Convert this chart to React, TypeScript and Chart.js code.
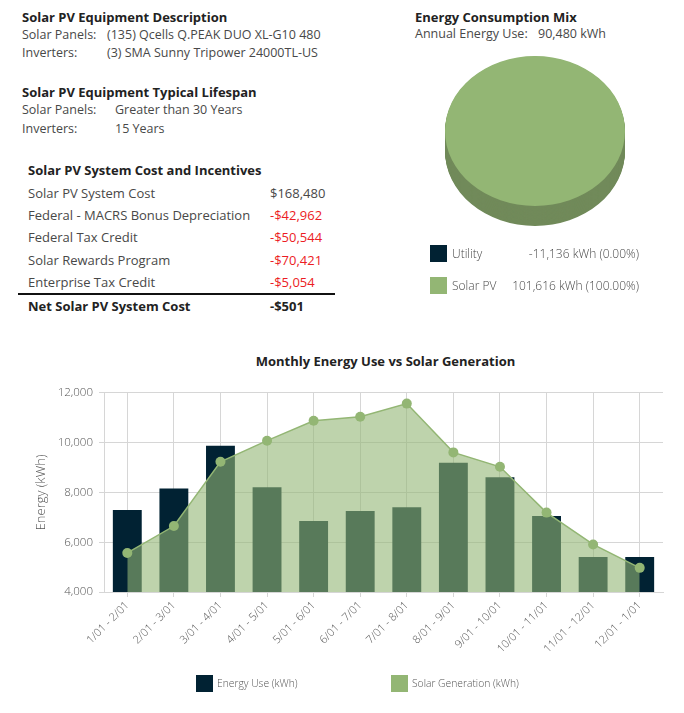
import React, { useEffect, useRef } from "react";
import { Chart, registerables } from "chart.js";

Chart.register(...registerables);

// ---------- data ----------
const months = [
  "1/01 - 2/01", "2/01 - 3/01", "3/01 - 4/01", "4/01 - 5/01", "5/01 - 6/01", "6/01 - 7/01",
  "7/01 - 8/01", "8/01 - 9/01", "9/01 - 10/01", "10/01 - 11/01", "11/01 - 12/01", "12/01 - 1/01",
];
const energyUse = [7290, 8160, 9880, 8210, 6850, 7250, 7410, 9190, 8610, 7050, 5410, 5410];
const solarGen = [5570, 6650, 9230, 10080, 10880, 11040, 11570, 9610, 9030, 7190, 5910, 4970];
const yMin = 4000;
const yMax = 12000;
const yStep = 2000;

const mixLabels = ["Utility", "Solar PV"];
const mixKwh = [-11136, 101616];
const mixPct = ["0.00%", "100.00%"];
const mixColors = ["#012233", "#93B674"];
const mixSideColors = ["#0a1a24", "#718A5A"];

const costLabels = [
  "Solar PV System Cost",
  "Federal - MACRS Bonus Depreciation",
  "Federal Tax Credit",
  "Solar Rewards Program",
  "Enterprise Tax Credit",
];
const costValues = ["$168,480", "-$42,962", "-$50,544", "-$70,421", "-$5,054"];

const FONT = "'Open Sans', 'Noto Sans', sans-serif";
const TEXT = "#484848";
const BOLD = "#222";
const RED = "#ec1c24";

type TP = { x: number; y: number; children: React.ReactNode; bold?: boolean; light?: boolean; color?: string; size?: number; right?: boolean };
function T({ x, y, children, bold, light, color, size, right }: TP) {
  const style: React.CSSProperties = {
    position: "absolute",
    top: y - 10,
    lineHeight: "20px",
    height: 20,
    fontSize: size || 12.5,
    fontWeight: bold ? 700 : light ? 300 : 400,
    color: color || (bold ? BOLD : TEXT),
    whiteSpace: "nowrap",
    fontFamily: FONT,
  };
  if (right) style.right = 684 - x;
  else style.left = x;
  return <div style={style}>{children}</div>;
}

// ---------- pie (3D-ish) ----------
const TILT = 75 / 90;
const DEPTH = 24;

const pie3d = {
  id: "pie3d",
  beforeDatasetsDraw(chart: any) {
    const ctx = chart.ctx as CanvasRenderingContext2D;
    const meta = chart.getDatasetMeta(0);
    const first = meta.data[0];
    const cx = first.x;
    const cy = first.y;
    ctx.save();
    ctx.translate(cx, cy);
    ctx.scale(1, TILT);
    ctx.translate(-cx, -cy);
    meta.data.forEach((arc: any, i: number) => {
      const p = arc.getProps(["x", "y", "startAngle", "endAngle", "outerRadius"], true);
      if (p.endAngle - p.startAngle <= 0) return;
      ctx.fillStyle = mixSideColors[i];
      for (let d = DEPTH; d > 0; d -= 1) {
        ctx.beginPath();
        ctx.moveTo(p.x, p.y + d);
        ctx.arc(p.x, p.y + d, p.outerRadius, p.startAngle, p.endAngle);
        ctx.closePath();
        ctx.fill();
      }
    });
  },
  afterDatasetsDraw(chart: any) {
    chart.ctx.restore();
  },
};

function PieChart() {
  const ref = useRef<HTMLCanvasElement>(null);
  useEffect(() => {
    const chart = new Chart(ref.current!, {
      type: "pie",
      data: {
        labels: mixLabels,
        datasets: [
          {
            data: mixKwh.map((v) => Math.max(0, v)),
            backgroundColor: mixColors,
            borderWidth: 0,
          },
        ],
      },
      options: {
        animation: false,
        responsive: false,
        maintainAspectRatio: false,
        layout: { padding: { top: 0, left: 0, right: 0, bottom: 25 } },
        plugins: { legend: { display: false }, tooltip: { enabled: false } },
      },
      plugins: [pie3d],
    } as any);
    return () => chart.destroy();
  }, []);
  return (
    <canvas
      ref={ref}
      width={180}
      height={205}
      style={{ position: "absolute", left: 445, top: 41, width: 180, height: 205 }}
    />
  );
}

// ---------- combo chart ----------
function ComboChart() {
  const ref = useRef<HTMLCanvasElement>(null);
  useEffect(() => {
    const tickFont = { family: FONT, size: 11.5, weight: 300 };
    const chart = new Chart(ref.current!, {
      type: "bar",
      data: {
        labels: months,
        datasets: [
          {
            type: "line",
            label: "Solar Generation (kWh)",
            data: solarGen,
            order: 0,
            borderColor: "#93B674",
            backgroundColor: "rgba(147,182,116,0.6)",
            fill: "start",
            borderWidth: 1.5,
            tension: 0,
            pointRadius: 5,
            pointBackgroundColor: "#93B674",
            pointBorderWidth: 0,
          },
          {
            type: "bar",
            label: "Energy Use (kWh)",
            data: energyUse,
            order: 1,
            backgroundColor: "#012233",
            barPercentage: 0.62,
            categoryPercentage: 1,
          },
        ],
      },
      options: {
        animation: false,
        responsive: false,
        maintainAspectRatio: false,
        layout: { padding: { left: 30, right: 21, top: 12, bottom: 0 } },
        plugins: { legend: { display: false }, title: { display: false }, tooltip: { enabled: false } },
        scales: {
          x: {
            offset: true,
            grid: { offset: false, color: "#d6d6d6", tickLength: 5 },
            border: { color: "#d6d6d6" },
            ticks: {
              minRotation: 45,
              maxRotation: 45,
              autoSkip: false,
              font: { family: FONT, size: 11, weight: 300 },
              color: "#555",
              padding: 2,
            },
            afterFit: (s: any) => {
              s.height = 88;
            },
          },
          y: {
            min: yMin,
            max: yMax,
            ticks: { stepSize: yStep, font: tickFont, color: "#555", padding: 6 },
            grid: { color: "#d6d6d6", tickLength: 5 },
            border: { color: "#d6d6d6" },
            title: {
              display: true,
              text: "Energy (kWh)",
              font: { family: FONT, size: 13, weight: 300 },
              color: "#555",
              padding: { top: 3, bottom: 4 },
            },
            afterFit: (s: any) => {
              s.width = 74;
            },
          },
        },
      },
    } as any);
    return () => chart.destroy();
  }, []);
  return (
    <canvas
      ref={ref}
      width={684}
      height={300}
      style={{ position: "absolute", left: 0, top: 380, width: 684, height: 300 }}
    />
  );
}

export default function App() {
  const costRows = [192.7, 214.5, 237.2, 259.5, 282.2];
  return (
    <div style={{ position: "absolute", left: 0, top: 0, width: 684, height: 713, background: "#fff", fontFamily: FONT, overflow: "hidden" }}>
      {/* equipment */}
      <T x={22} y={17} bold size={13}>Solar PV Equipment Description</T>
      <T x={22} y={34.5}>Solar Panels:</T>
      <T x={107} y={34.5}>(135) Qcells Q.PEAK DUO XL-G10 480</T>
      <T x={22} y={53}>Inverters:</T>
      <T x={107} y={53}>(3) SMA Sunny Tripower 24000TL-US</T>

      <T x={22} y={91.5} bold size={13}>Solar PV Equipment Typical Lifespan</T>
      <T x={22} y={110}>Solar Panels:</T>
      <T x={115} y={110}>Greater than 30 Years</T>
      <T x={22} y={128.5}>Inverters:</T>
      <T x={115} y={128.5}>15 Years</T>

      {/* cost table */}
      <T x={28} y={170} bold size={13}>Solar PV System Cost and Incentives</T>
      {costLabels.map((l, i) => (
        <T key={l} x={28} y={costRows[i]} size={13}>{l}</T>
      ))}
      {costValues.map((v, i) => (
        <T key={v} x={270} y={costRows[i]} size={13} color={v.startsWith("-") ? RED : TEXT}>{v}</T>
      ))}
      <div style={{ position: "absolute", left: 18, top: 293, width: 317, height: 2, background: "#111" }} />
      <T x={28} y={306} bold size={13}>Net Solar PV System Cost</T>
      <T x={270} y={306} bold size={13}>-$501</T>

      {/* energy mix */}
      <T x={415} y={17} bold size={13}>Energy Consumption Mix</T>
      <T x={415} y={34.3}>Annual Energy Use:</T>
      <T x={538} y={34.3}>90,480 kWh</T>
      <PieChart />
      {mixLabels.map((l, i) => (
        <React.Fragment key={l}>
          <div style={{ position: "absolute", left: 430, top: 245 + i * 32, width: 17, height: 17, background: mixColors[i] }} />
          <T x={452} y={253.5 + i * 32} size={12} light>{l}</T>
          <T x={639} y={253.5 + i * 32} size={12} light right>
            {mixKwh[i].toLocaleString("en-US")} kWh ({mixPct[i]})
          </T>
        </React.Fragment>
      ))}

      {/* monthly chart */}
      <div style={{ position: "absolute", left: 0, width: 771, top: 350.5, lineHeight: "20px", textAlign: "center", fontSize: 13, fontWeight: 700, color: BOLD, fontFamily: FONT }}>
        Monthly Energy Use vs Solar Generation
      </div>
      <ComboChart />
      <div style={{ position: "absolute", left: 196, top: 675, width: 17, height: 17, background: "#012233" }} />
      <T x={217} y={683} size={10.3} light color="#555">Energy Use (kWh)</T>
      <div style={{ position: "absolute", left: 391, top: 675, width: 17, height: 17, background: "#93B674" }} />
      <T x={412} y={683} size={10.3} light color="#555">Solar Generation (kWh)</T>
    </div>
  );
}
